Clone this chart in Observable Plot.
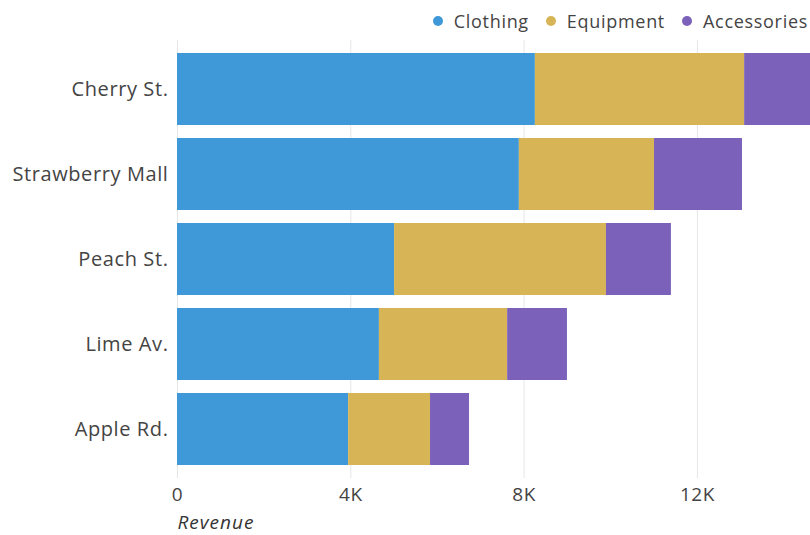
<!DOCTYPE html>
<html><head><meta charset="utf-8">
<script src="https://cdn.jsdelivr.net/npm/d3@7"></script>
<script src="https://cdn.jsdelivr.net/npm/@observablehq/plot@0.6"></script>
<style>
body{margin:0;background:#fff;font-family:"Open Sans",sans-serif;}
#wrap{position:relative;width:810px;height:535px;overflow:hidden;}
#legend{position:absolute;top:8px;right:2px;display:flex;align-items:center;font-size:18px;letter-spacing:0.7px;color:#444;line-height:26px;white-space:nowrap;}
#legend .item{display:flex;align-items:center;margin-left:17px;}
#legend .dot{width:10px;height:10px;border-radius:50%;margin-right:11px;}
#wrap svg{position:absolute;left:0;top:0;}
g[aria-label="y-axis tick label"]{letter-spacing:0.6px;}
g[aria-label="x-axis tick label"]{letter-spacing:0.5px;}
g[aria-label="text"]{letter-spacing:1px;}
</style></head><body><div id="wrap"><div id="legend"></div></div>
<script>
const stores = ["Cherry St.", "Strawberry Mall", "Peach St.", "Lime Av.", "Apple Rd."];
const categories = ["Clothing", "Equipment", "Accessories"];
const clothing = [8260, 7890, 5010, 4660, 3950];
const equipment = [4830, 3120, 4890, 2960, 1890];
const accessories = [1520, 2030, 1500, 1380, 900];
const colors = ["#3f98d7", "#d7b556", "#7b61ba"];
const xTicks = [0, 4000, 8000, 12000];
const xTickLabels = ["0", "4K", "8K", "12K"];
const xLabel = "Revenue";

const series = [clothing, equipment, accessories];
const data = stores.flatMap((s, i) => series.map((arr, j) => ({store: s, category: categories[j], value: arr[i]})));

const chart = Plot.plot({
  width: 810, height: 535,
  marginTop: 40, marginBottom: 57, marginLeft: 177, marginRight: 0,
  style: {fontFamily: "Open Sans", fontSize: "19px", color: "#444", background: "transparent"},
  x: {domain: [0, 14610], label: null},
  y: {domain: stores, padding: 0.15, label: null},
  color: {domain: categories, range: colors},
  marks: [
    Plot.gridX(xTicks, {stroke: "#e6e6e6", strokeOpacity: 1}),
    Plot.barX(data, Plot.stackX({x: "value", y: "store", fill: "category", order: categories})),
    Plot.axisX(xTicks, {tickSize: 0, tickPadding: 9, fontSize: 19, label: null, tickFormat: d => xTickLabels[xTicks.indexOf(d)]}),
    Plot.axisY({tickSize: 0, tickPadding: 9, fontSize: 20, label: null}),
    Plot.text([xLabel], {frameAnchor: "bottom-left", dy: 50, fontStyle: "italic", fontSize: 19, fill: "#333", textAnchor: "start"})
  ]
});
document.getElementById("wrap").appendChild(chart);

const legend = document.getElementById("legend");
categories.forEach((c, i) => {
  const item = document.createElement("div");
  item.className = "item";
  const dot = document.createElement("span");
  dot.className = "dot";
  dot.style.background = colors[i];
  const label = document.createElement("span");
  label.textContent = c;
  item.appendChild(dot); item.appendChild(label);
  legend.appendChild(item);
});
</script></body></html>
